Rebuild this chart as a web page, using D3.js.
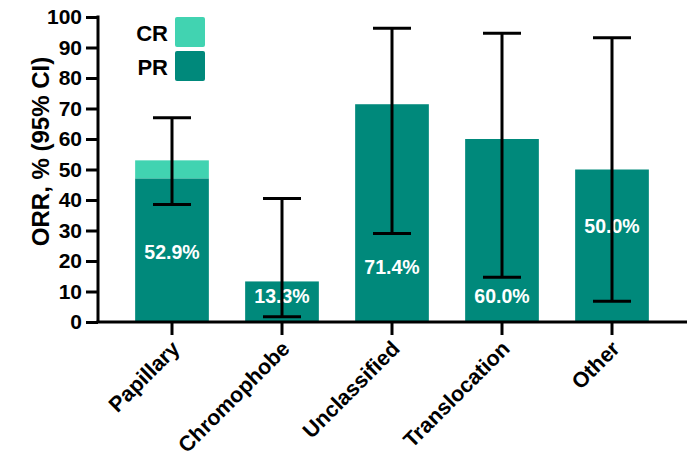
<!DOCTYPE html>
<html>
<head>
<meta charset="utf-8">
<script src="https://cdn.jsdelivr.net/npm/d3@7"></script>
<style>
  html, body { margin: 0; padding: 0; background: #fff; }
  svg { display: block; font-family: "Liberation Sans", Arial, sans-serif; }
</style>
</head>
<body>
<svg id="chart" width="694" height="463"></svg>
<script>
// Response rates by histology (ORR with 95% CI)
const categories = ["Papillary", "Chromophobe", "Unclassified", "Translocation", "Other"];
const prValues   = [47.1, 13.3, 71.4, 60.0, 50.0];
const crValues   = [5.9, 0, 0, 0, 0];
const orrValues  = [52.9, 13.3, 71.4, 60.0, 50.0];
const ciLower    = [38.5, 1.7, 29.0, 14.7, 6.8];
const ciUpper    = [67.0, 40.5, 96.3, 94.7, 93.2];
const labelAt    = [23.0, 8.5, 18.0, 8.5, 31.5];   // value-axis level of each percentage label
const yTicks     = [0, 10, 20, 30, 40, 50, 60, 70, 80, 90, 100];
const legendKeys = ["CR", "PR"];

const colors = { PR: "#00897B", CR: "#41D3B1" };
const FONT = "Liberation Sans, Arial, sans-serif";

const svg = d3.select("#chart");

const y = d3.scaleLinear().domain([0, 100]).range([322, 17]);
const x = d3.scaleBand().domain(categories).range([117, 667])
  .paddingInner(0.33).paddingOuter(0.165);

const data = categories.map((c, i) => ({
  cat: c, pr: prValues[i], cr: crValues[i], orr: orrValues[i],
  lo: ciLower[i], hi: ciUpper[i], lab: labelAt[i]
}));

// stacked bars: PR at the base, CR on top
const stack = d3.stack().keys(["pr", "cr"])(data);
const keyColor = { pr: colors.PR, cr: colors.CR };
stack.forEach(layer => {
  svg.append("g").attr("fill", keyColor[layer.key])
    .selectAll("rect").data(layer).join("rect")
    .attr("x", d => x(d.data.cat))
    .attr("width", x.bandwidth())
    .attr("y", d => y(d[1]))
    .attr("height", d => Math.max(0, y(d[0]) - y(d[1])));
});

// percentage labels inside bars
svg.append("g").selectAll("text").data(data).join("text")
  .attr("x", d => x(d.cat) + x.bandwidth() / 2)
  .attr("y", d => y(d.lab))
  .attr("text-anchor", "middle")
  .attr("dominant-baseline", "central")
  .attr("fill", "#fff")
  .attr("font-weight", "bold")
  .attr("font-size", 19.5)
  .text(d => d.orr.toFixed(1) + "%");

// confidence intervals
const capHalf = 19;
const eb = svg.append("g").attr("stroke", "#000").attr("stroke-width", 3);
data.forEach(d => {
  const cx = x(d.cat) + x.bandwidth() / 2;
  eb.append("line").attr("x1", cx).attr("x2", cx).attr("y1", y(d.lo)).attr("y2", y(d.hi));
  eb.append("line").attr("x1", cx - capHalf).attr("x2", cx + capHalf).attr("y1", y(d.hi)).attr("y2", y(d.hi));
  eb.append("line").attr("x1", cx - capHalf).attr("x2", cx + capHalf).attr("y1", y(d.lo)).attr("y2", y(d.lo));
});

// y axis
const yAxis = svg.append("g").attr("transform", "translate(98,0)")
  .call(d3.axisLeft(y).tickValues(yTicks).tickSize(12).tickPadding(4));
yAxis.select(".domain").attr("stroke-width", 3).attr("d", `M0,${y(100) - 1.5}V${y(0)}`);
yAxis.selectAll(".tick line").attr("stroke-width", 3);
yAxis.selectAll(".tick text")
  .attr("font-size", 21).attr("font-weight", "bold").attr("fill", "#000")
  .attr("font-family", FONT);

// x axis
const xAxis = svg.append("g").attr("transform", `translate(0,${y(0)})`)
  .call(d3.axisBottom(x).tickSize(13).tickSizeOuter(0));
xAxis.select(".domain").attr("stroke-width", 3).attr("d", "M96.5,0H687");
xAxis.selectAll(".tick line").attr("stroke-width", 3);
xAxis.selectAll(".tick text")
  .attr("font-size", 21.5).attr("font-weight", "bold").attr("fill", "#000")
  .attr("font-family", FONT)
  .attr("text-anchor", "end")
  .attr("dy", null).attr("y", 0)
  .attr("transform", "translate(9,28) rotate(-45)");

// y axis title
svg.append("text")
  .attr("transform", `translate(49,${(y(0) + y(100)) / 2 - 18}) rotate(-90)`)
  .attr("text-anchor", "middle")
  .attr("font-size", 24).attr("font-weight", "bold")
  .text("ORR, % (95% CI)");

// legend
const lg = svg.append("g");
legendKeys.forEach((k, i) => {
  const top = 17 + i * 34;
  lg.append("rect").attr("x", 175).attr("y", top).attr("width", 30).attr("height", 30)
    .attr("rx", 2).attr("fill", colors[k]);
  lg.append("text").attr("x", 168).attr("y", top + 16)
    .attr("text-anchor", "end").attr("dominant-baseline", "central")
    .attr("font-size", 22).attr("font-weight", "bold").text(k);
});
</script>
</body>
</html>
